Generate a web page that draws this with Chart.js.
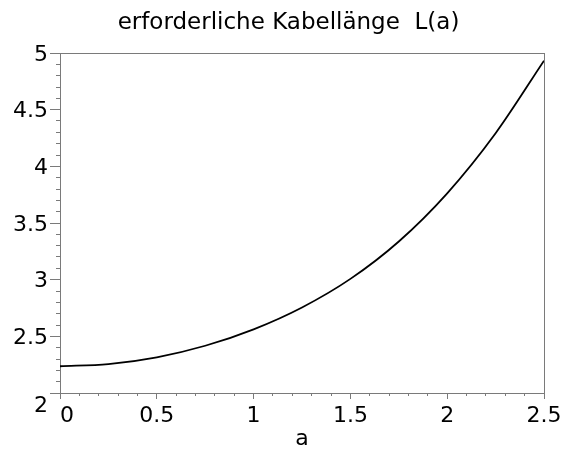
<!DOCTYPE html>
<html>
<head>
<meta charset="utf-8">
<script src="https://cdn.jsdelivr.net/npm/chart.js@4"></script>
<style>
  html, body { margin: 0; padding: 0; background: #fff; }
  canvas { display: block; }
</style>
</head>
<body>
<canvas id="chart" width="564" height="450"></canvas>
<script>
// Kabellänge L(a), values
const aValues = [0, 0.25, 0.5, 0.75, 1, 1.25, 1.5, 1.75, 2, 2.25, 2.5];
const lengthValues = [2.236, 2.255, 2.315, 2.417, 2.562, 2.755, 3.007, 3.337, 3.762, 4.292, 4.932];

const xTicks = [0, 0.5, 1, 1.5, 2, 2.5];
const yTicks = [2, 2.5, 3, 3.5, 4, 4.5, 5];

const FONT = 'DejaVu Sans';
const AXIS = '#7a7a7a';

function setTicks(values) {
    return scale => { scale.ticks = values.map(v => ({ value: v })); };
}

// empty axes, only used for tick marks / frame lines
function bareAxis(position, weight, tickLength, step, min, max) {
    const horizontal = position === 'top' || position === 'bottom';
    return {
        type: 'linear',
        position: position,
        weight: weight,
        min: min,
        max: max,
        border: { display: false },
        grid: { display: tickLength > 0, drawOnChartArea: false, drawTicks: tickLength > 0, tickLength: tickLength, color: AXIS, lineWidth: 1 },
        ticks: { stepSize: step, autoSkip: false, callback: () => '' },
        afterFit: s => {
            if (horizontal) s.height = 0; else s.width = 0;
            s.paddingLeft = 0; s.paddingRight = 0; s.paddingTop = 0; s.paddingBottom = 0;
        }
    };
}

const frameTop = bareAxis('top', 0, 0, 0.5, 0, 2.5);
frameTop.border = { display: true, color: AXIS, width: 1 };
const frameRight = bareAxis('right', 0, 0, 0.5, 2, 5);
frameRight.border = { display: true, color: AXIS, width: 1 };

new Chart(document.getElementById('chart'), {
    type: 'line',
    data: {
        datasets: [{
            data: aValues.map((a, i) => ({ x: a, y: lengthValues[i] })),
            borderColor: '#000',
            borderWidth: 1.8,
            pointRadius: 0,
            cubicInterpolationMode: 'monotone',
            fill: false
        }]
    },
    options: {
        responsive: false,
        animation: false,
        layout: { padding: { left: 13, right: 0, top: 0, bottom: 0 } },
        plugins: {
            legend: { display: false },
            tooltip: { enabled: false },
            title: {
                display: true,
                text: 'erforderliche Kabellänge  L(a)',
                color: '#000',
                font: { family: FONT, size: 23, weight: 'normal', lineHeight: 1.2 },
                padding: { top: 9, bottom: 16.4 }
            }
        },
        scales: {
            x: {
                type: 'linear',
                position: 'bottom',
                weight: 1,
                min: 0,
                max: 2.5,
                afterBuildTicks: setTicks(xTicks),
                border: { display: true, color: AXIS, width: 1 },
                grid: { drawOnChartArea: false, tickLength: 6, color: AXIS },
                ticks: {
                    color: '#000',
                    padding: 4,
                    maxRotation: 0,
                    autoSkip: false,
                    font: { family: FONT, size: 22 },
                    callback: v => v === 0 ? '  0' : String(v)
                },
                title: {
                    display: true,
                    text: 'a',
                    color: '#000',
                    font: { family: FONT, size: 22, lineHeight: 1 },
                    padding: 0
                },
                afterFit: s => { s.paddingLeft = 0; s.paddingRight = 20; s.height = 57; }
            },
            xMinor: bareAxis('bottom', 0, 3, 0.1, 0, 2.5),
            xTop: frameTop,
            y: {
                type: 'linear',
                position: 'left',
                weight: 1,
                min: 2,
                max: 5,
                afterBuildTicks: setTicks(yTicks),
                border: { display: true, color: AXIS, width: 1 },
                grid: { drawOnChartArea: false, tickLength: 10, color: AXIS },
                ticks: {
                    color: '#000',
                    padding: 2,
                    labelOffset: 2,
                    autoSkip: false,
                    font: { family: FONT, size: 22, lineHeight: 1 },
                    callback: v => v === 2 ? ['', '2'] : String(v)
                },
                afterFit: s => { s.width = 47; s.paddingTop = 0; s.paddingBottom = 0; }
            },
            yMinor: bareAxis('left', 0, 4, 0.1, 2, 5),
            yRight: frameRight
        }
    }
});
</script>
</body>
</html>
